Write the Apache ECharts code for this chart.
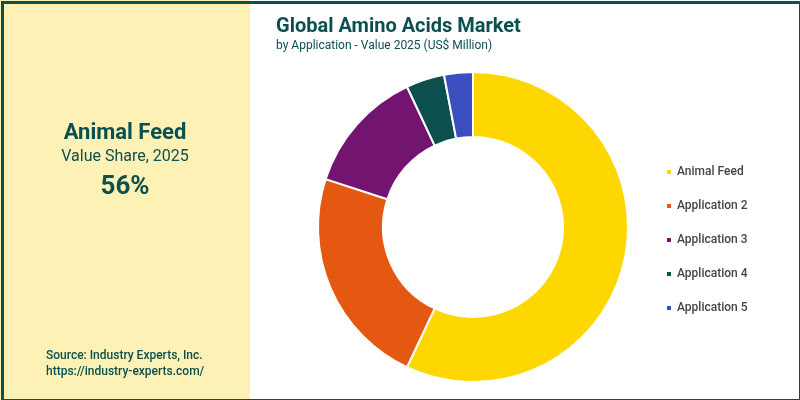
<!DOCTYPE html>
<html><head><meta charset="utf-8">
<script src="https://cdn.jsdelivr.net/npm/echarts@6/dist/echarts.min.js"></script>
<style>html,body{margin:0;padding:0;background:#fff}#c{width:800px;height:400px}</style>
</head><body><div id="c"></div>
<script>
const categories = ['Animal Feed','Application 2','Application 3','Application 4','Application 5'];
const values = [57, 23, 13, 4, 3];
const colors = ['#FFD700','#E55812','#731471','#0B4F4F','#3B4FC0'];
const chart = echarts.init(document.getElementById('c'));
chart.setOption({
  animation:false,
  color: colors,
  graphic:[
    {type:'rect',left:0,top:0,shape:{width:800,height:400},style:{fill:'#fff'},z:-10},
    {type:'rect',left:0,top:0,shape:{width:250,height:400},style:{fill:'#FDF1B6'},z:-9},
    {type:'rect',left:0,top:0,shape:{width:798,height:398},style:{fill:'none',stroke:'#0B4F4F',lineWidth:3},z:10},
    {type:'text',x:125,y:133,style:{text:'Animal Feed',fill:'#0B4F4F',font:'bold 22px Roboto',align:'center',verticalAlign:'middle'}},
    {type:'text',x:125,y:157,style:{text:'Value Share, 2025',fill:'#0B4F4F',font:'16px Roboto',align:'center',verticalAlign:'middle'}},
    {type:'text',x:125,y:187,style:{text:'56%',fill:'#0B4F4F',font:'bold 26px Roboto',align:'center',verticalAlign:'middle'}},
    {type:'text',x:46,y:356,style:{text:'Source: Industry Experts, Inc.',fill:'#0B4F4F',font:'500 12px Roboto',verticalAlign:'middle'}},
    {type:'text',x:46,y:372,style:{text:'https://industry-experts.com/',fill:'#0B4F4F',font:'500 12px Roboto',verticalAlign:'middle'}},
    {type:'text',x:276,y:27,style:{text:'Global Amino Acids Market',fill:'#0B4F4F',font:'bold 20px Roboto',verticalAlign:'middle'}},
    {type:'text',x:276,y:46,style:{text:'by Application - Value 2025 (US$ Million)',fill:'#0B4F4F',font:'12px Roboto',verticalAlign:'middle'}}
  ],
  legend:{orient:'vertical',left:660,top:161,itemGap:22,itemWidth:6,itemHeight:6,icon:'rect',
    textStyle:{color:'#444',fontSize:12,fontWeight:500,fontFamily:'Roboto'},data:categories},
  series:[{type:'pie',center:[473,227],radius:[90,155],startAngle:90,clockwise:true,
    label:{show:false},labelLine:{show:false},
    itemStyle:{borderColor:'#fff',borderWidth:2},
    data:categories.map((n,i)=>({name:n,value:values[i]}))}]
});
</script></body></html>
